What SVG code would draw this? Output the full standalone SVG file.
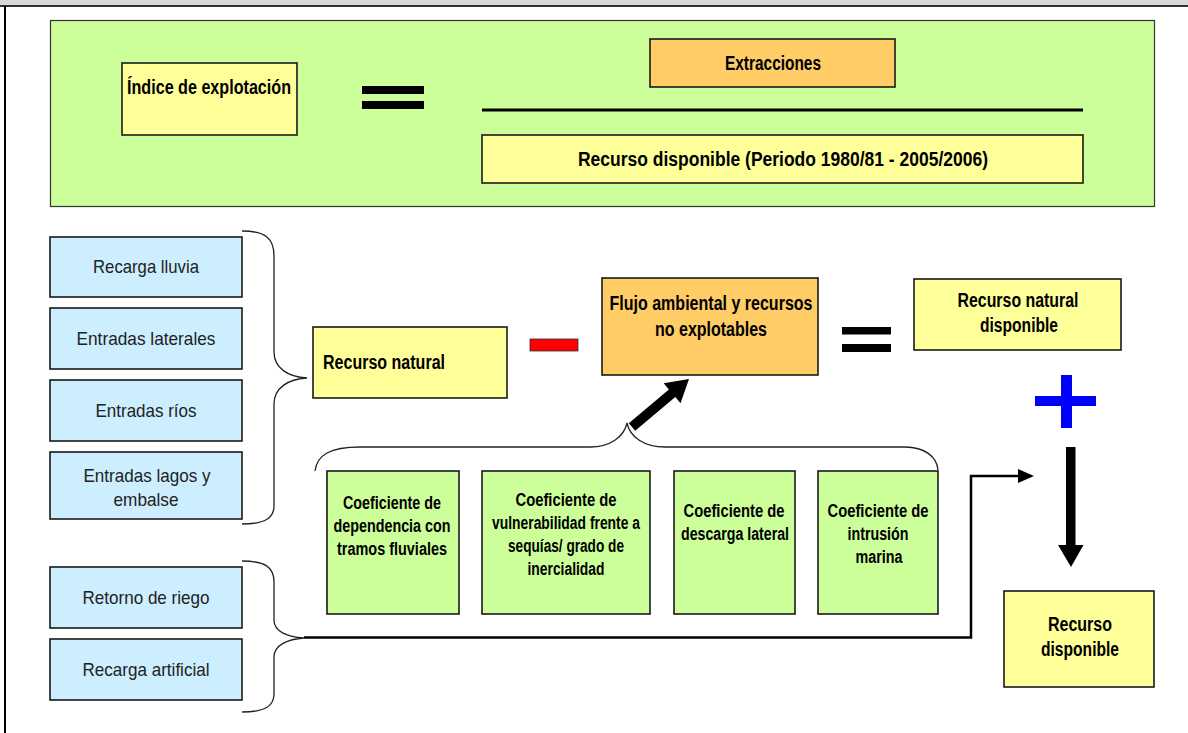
<svg xmlns="http://www.w3.org/2000/svg" width="1188" height="733" viewBox="0 0 1188 733">
<defs>
<style>
.box{stroke:#1a1a1a;stroke-width:1.6}
.yel{fill:#ffff99}
.org{fill:#ffcc66}
.grn{fill:#ccff99}
.blu{fill:#cceeff}
.b{font-family:"Liberation Sans",Arial,sans-serif;font-weight:bold;font-size:19.5px;fill:#000}
.m{text-anchor:middle}
.c{font-family:"Liberation Sans",Arial,sans-serif;font-weight:bold;font-size:18px;fill:#000;text-anchor:middle}
.r{font-family:"Liberation Sans",Arial,sans-serif;font-size:18.5px;fill:#222;text-anchor:middle}
.brace{fill:none;stroke:#222;stroke-width:1.3}
</style>
</defs>
<rect x="0" y="0" width="1188" height="733" fill="#fff"/>
<rect x="0" y="0" width="1188" height="5" fill="#d9d9d9"/>
<rect x="0" y="5" width="1188" height="2" fill="#333"/>
<rect x="4" y="6" width="2" height="727" fill="#000"/>

<g id="formula">
<rect x="50.5" y="20.5" width="1104" height="186" class="grn" stroke="#333" stroke-width="1.2"/>
<rect x="362" y="86" width="62" height="8" fill="#000"/>
<rect x="362" y="101" width="62" height="8" fill="#000"/>
<rect x="482" y="108.5" width="601" height="3" fill="#000"/>
</g>
<g id="indice">
<rect x="122" y="63" width="175" height="72" class="box yel"/>
<text x="127" y="94" class="b" textLength="164" lengthAdjust="spacingAndGlyphs">Índice de explotación</text>
</g>
<g id="extracciones">
<rect x="650" y="39" width="245" height="48" class="box org"/>
<text x="773" y="70" class="b m" textLength="96" lengthAdjust="spacingAndGlyphs">Extracciones</text>
</g>
<g id="recurso-periodo">
<rect x="482" y="135" width="601" height="48" class="box yel"/>
<text x="783" y="166" class="b m" textLength="410" lengthAdjust="spacingAndGlyphs">Recurso disponible (Periodo 1980/81 - 2005/2006)</text>
</g>

<g id="recarga-lluvia"><rect x="50" y="237" width="192" height="60" class="box blu"/><text x="146" y="273" class="r" textLength="106" lengthAdjust="spacingAndGlyphs">Recarga lluvia</text></g>
<g id="entradas-laterales"><rect x="50" y="308" width="192" height="61" class="box blu"/><text x="146" y="345" class="r" textLength="139" lengthAdjust="spacingAndGlyphs">Entradas laterales</text></g>
<g id="entradas-rios"><rect x="50" y="380" width="192" height="61" class="box blu"/><text x="146" y="417" class="r" textLength="101" lengthAdjust="spacingAndGlyphs">Entradas ríos</text></g>
<g id="entradas-lagos"><rect x="50" y="452" width="192" height="67" class="box blu"/><text x="147" y="482" class="r" textLength="127" lengthAdjust="spacingAndGlyphs">Entradas lagos y</text><text x="146" y="506" class="r" textLength="65" lengthAdjust="spacingAndGlyphs">embalse</text></g>
<g id="retorno-riego"><rect x="50" y="567" width="192" height="61" class="box blu"/><text x="146" y="604" class="r" textLength="127" lengthAdjust="spacingAndGlyphs">Retorno de riego</text></g>
<g id="recarga-artificial"><rect x="50" y="639" width="192" height="61" class="box blu"/><text x="146" y="676" class="r" textLength="127" lengthAdjust="spacingAndGlyphs">Recarga artificial</text></g>

<g id="recurso-natural"><rect x="313" y="327" width="194" height="71" class="box yel"/><text x="323" y="369" class="b" textLength="122" lengthAdjust="spacingAndGlyphs">Recurso natural</text></g>
<g id="menos"><rect x="530" y="339" width="48" height="12" fill="#ff0000" stroke="#333" stroke-width="0.8"/></g>
<g id="flujo"><rect x="602" y="278" width="216" height="97" class="box org"/><text x="711" y="310" class="b m" textLength="203" lengthAdjust="spacingAndGlyphs">Flujo ambiental y recursos</text><text x="711" y="336" class="b m" textLength="112" lengthAdjust="spacingAndGlyphs">no explotables</text></g>
<g id="igual"><rect x="842" y="327" width="49" height="7.5" fill="#000"/><rect x="842" y="344" width="49" height="8" fill="#000"/></g>
<g id="recurso-natural-disponible"><rect x="914" y="279" width="207" height="71" class="box yel"/><text x="1018" y="307" class="b m" textLength="121" lengthAdjust="spacingAndGlyphs">Recurso natural</text><text x="1019" y="332" class="b m" textLength="78" lengthAdjust="spacingAndGlyphs">disponible</text></g>
<g id="mas"><rect x="1061" y="375" width="11" height="53" fill="#0000ff"/><rect x="1035" y="396" width="61" height="10" fill="#0000ff"/></g>

<g id="coef-dependencia"><rect x="327" y="471" width="132" height="143" class="box grn"/><text x="392" y="509" class="c" textLength="98" lengthAdjust="spacingAndGlyphs">Coeficiente de</text><text x="392" y="532" class="c" textLength="117" lengthAdjust="spacingAndGlyphs">dependencia con</text><text x="392" y="555" class="c" textLength="110" lengthAdjust="spacingAndGlyphs">tramos fluviales</text></g>
<g id="coef-vulnerabilidad"><rect x="482" y="471" width="168" height="143" class="box grn"/><text x="566" y="506" class="c" textLength="101" lengthAdjust="spacingAndGlyphs">Coeficiente  de</text><text x="566" y="529" class="c" textLength="148" lengthAdjust="spacingAndGlyphs">vulnerabilidad frente a</text><text x="566" y="552" class="c" textLength="116" lengthAdjust="spacingAndGlyphs">sequías/ grado de</text><text x="566" y="575" class="c" textLength="77" lengthAdjust="spacingAndGlyphs">inercialidad</text></g>
<g id="coef-descarga"><rect x="674" y="471" width="121" height="143" class="box grn"/><text x="734" y="517" class="c" textLength="101" lengthAdjust="spacingAndGlyphs">Coeficiente  de</text><text x="735" y="540" class="c" textLength="108" lengthAdjust="spacingAndGlyphs">descarga lateral</text></g>
<g id="coef-intrusion"><rect x="818" y="471" width="120" height="143" class="box grn"/><text x="878" y="517" class="c" textLength="101" lengthAdjust="spacingAndGlyphs">Coeficiente  de</text><text x="878" y="540" class="c" textLength="61" lengthAdjust="spacingAndGlyphs">intrusión</text><text x="879" y="563" class="c" textLength="47" lengthAdjust="spacingAndGlyphs">marina</text></g>

<g id="recurso-disponible"><rect x="1004" y="591" width="150" height="96" class="box yel"/><text x="1080" y="631" class="b m" textLength="64" lengthAdjust="spacingAndGlyphs">Recurso</text><text x="1080" y="656" class="b m" textLength="78" lengthAdjust="spacingAndGlyphs">disponible</text></g>

<g id="connectors">
<path class="brace" d="M242,231 C265,231 274,238 274,256 L274,352 C274,368 288,377 307,378 C288,379 274,388 274,404 L274,506 C274,518 265,524 242,524"/>
<path class="brace" d="M242,561 C265,561 274,567 274,582 L274,620 C274,632 288,637 304,638 C288,639 274,645 274,657 L274,694 C274,706 265,712 242,712"/>
<path class="brace" d="M315,471 C317,455 330,447 360,447 L590,447 C610,447 624,437 627,423 C630,437 644,447 665,447 L905,447 C925,447 937,457 938,470"/>
<polygon points="628.8,423.2 668.9,389.4 663.7,383.2 689,379 680.5,403.2 675.3,397.0 635.2,430.8" fill="#000"/>
<polyline points="304,637.5 971,637.5 971,476 1020,476" fill="none" stroke="#000" stroke-width="2.5"/>
<polygon points="1018,469 1034,476 1018,483" fill="#000"/>
<rect x="1066" y="447" width="9.5" height="99" fill="#000"/>
<polygon points="1058,545 1083.5,545 1071,567" fill="#000"/>
</g>
</svg>
